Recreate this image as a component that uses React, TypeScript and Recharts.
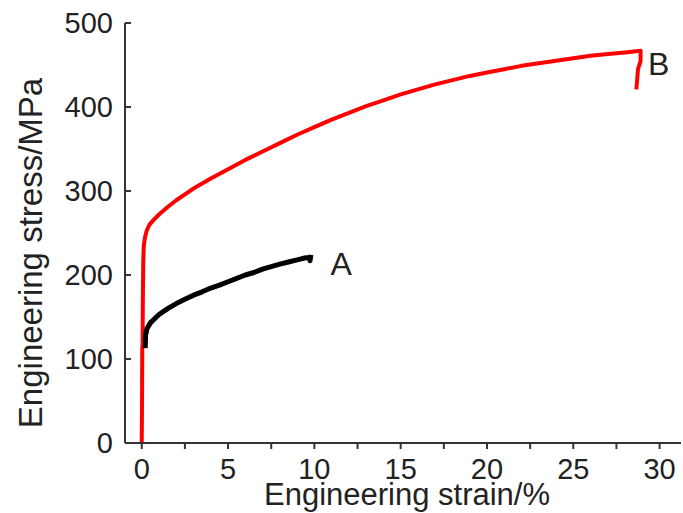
import React from 'react';
import { LineChart, Line, XAxis, YAxis, ReferenceDot, Customized } from 'recharts';

const strainB = [0, 0.02, 0.03, 0.05, 0.06, 0.09, 0.12, 0.19, 0.29, 0.45, 0.66, 1.0, 1.5, 2.0, 2.5, 3.0, 3.5, 4.0, 5.0, 6.0, 7.0, 8.0, 9.0, 10.0, 11.0, 12.0, 13.0, 14.0, 15.0, 16.0, 17.0, 18.0, 19.0, 20.0, 21.0, 22.0, 23.0, 24.0, 25.0, 26.0, 27.0, 28.0, 28.9, 28.9, 28.75, 28.7, 28.65];
const stressB = [0, 60, 113, 118, 160, 218, 235, 245, 253, 260, 265, 272, 281, 289, 296, 303, 309, 315, 326, 337, 347, 357, 367, 376, 385, 393, 401, 408, 415, 421, 427, 432, 437, 441, 445, 449, 452, 455, 458, 461, 463, 465, 467, 455, 445, 432, 421];

const strainA = [0.2, 0.22, 0.3, 0.5, 1.0, 1.5, 2.0, 2.5, 3.0, 3.5, 4.0, 4.5, 5.0, 5.5, 6.0, 6.5, 7.0, 7.5, 8.0, 8.5, 9.0, 9.5, 9.7, 9.75, 9.8];
const stressA = [113, 128, 136, 143, 153, 160, 166, 171, 176, 180, 184.5, 188, 192, 196, 200, 203, 207, 210, 213, 215.5, 218, 220.5, 221, 217, 224];

const xTicks = [0, 2.5, 5, 7.5, 10, 12.5, 15, 17.5, 20, 22.5, 25, 27.5, 30];
const yTicks = [0, 100, 200, 300, 400, 500];
const xTitle = 'Engineering strain/%';
const yTitle = 'Engineering stress/MPa';
const labelA = { name: 'A', strain: 11.55, stress: 200 };
const labelB = { name: 'B', strain: 29.33, stress: 438 };

const dataA = strainA.map((x, i) => ({ x, y: stressA[i] }));
const dataB = strainB.map((x, i) => ({ x, y: stressB[i] }));

const FONT = '"Liberation Sans", Arial, sans-serif';
const AXIS = '#333';
const TXT = '#222';
const tickStyle = { fontFamily: FONT, fontSize: 29, fill: TXT };

const Titles = () => (
  <g>
    <text x={407} y={505} textAnchor="middle" fontFamily={FONT} fontSize={31} fill={TXT}>{xTitle}</text>
    <text transform="translate(42,253) rotate(-90)" textAnchor="middle" fontFamily={FONT} fontSize={33} fill={TXT}>{yTitle}</text>
  </g>
);

const curveLabel = (text: string) => (props: any) => {
  const vb = props.viewBox || {};
  return (
    <text x={vb.x} y={vb.y} textAnchor={text === 'A' ? 'middle' : 'start'} fontFamily={FONT} fontSize={32} fill={TXT}>{text}</text>
  );
};

export default function App() {
  return (
    <div style={{ position: 'absolute', left: 0, top: 0, background: '#fff' }}>
      <LineChart width={683} height={513} margin={{ top: 23, right: 2, bottom: 0, left: 0 }}>
        <XAxis
          xAxisId="main"
          dataKey="x"
          type="number"
          domain={[-0.97, 31.24]}
          allowDataOverflow
          ticks={xTicks}
          interval={0}
          tickFormatter={(v: number) => (v % 5 === 0 ? String(v) : '')}
          height={70}
          tickSize={6}
          tickMargin={9}
          axisLine={{ stroke: AXIS, strokeWidth: 2 }}
          tickLine={{ stroke: AXIS, strokeWidth: 2 }}
          tick={tickStyle}
        />
        <XAxis
          xAxisId="top"
          orientation="top"
          type="number"
          domain={[-0.97, 31.24]}
          height={0}
          tick={false}
          tickLine={false}
          axisLine={{ stroke: AXIS, strokeWidth: 2 }}
        />
        <YAxis
          yAxisId="main"
          type="number"
          domain={[0, 500]}
          ticks={yTicks}
          interval={0}
          width={125}
          tickSize={-6}
          tickMargin={18}
          axisLine={{ stroke: AXIS, strokeWidth: 2 }}
          tickLine={{ stroke: AXIS, strokeWidth: 2 }}
          tick={tickStyle}
        />
        <YAxis
          yAxisId="right"
          orientation="right"
          type="number"
          domain={[0, 500]}
          width={0}
          tick={false}
          tickLine={false}
          axisLine={{ stroke: AXIS, strokeWidth: 2 }}
        />
        <Line
          xAxisId="main"
          yAxisId="main"
          data={dataB}
          dataKey="y"
          type="linear"
          stroke="#ff0000"
          strokeWidth={4}
          strokeLinejoin="round"
          dot={false}
          isAnimationActive={false}
        />
        <Line
          xAxisId="main"
          yAxisId="main"
          data={dataA}
          dataKey="y"
          type="linear"
          stroke="#000000"
          strokeWidth={5}
          strokeLinejoin="round"
          dot={false}
          isAnimationActive={false}
        />
        <ReferenceDot xAxisId="main" yAxisId="main" x={labelA.strain} y={labelA.stress} r={0} stroke="none" fill="none" label={curveLabel(labelA.name)} />
        <ReferenceDot xAxisId="main" yAxisId="main" x={labelB.strain} y={labelB.stress} r={0} stroke="none" fill="none" label={curveLabel(labelB.name)} />
        <Customized component={Titles} />
      </LineChart>
    </div>
  );
}
